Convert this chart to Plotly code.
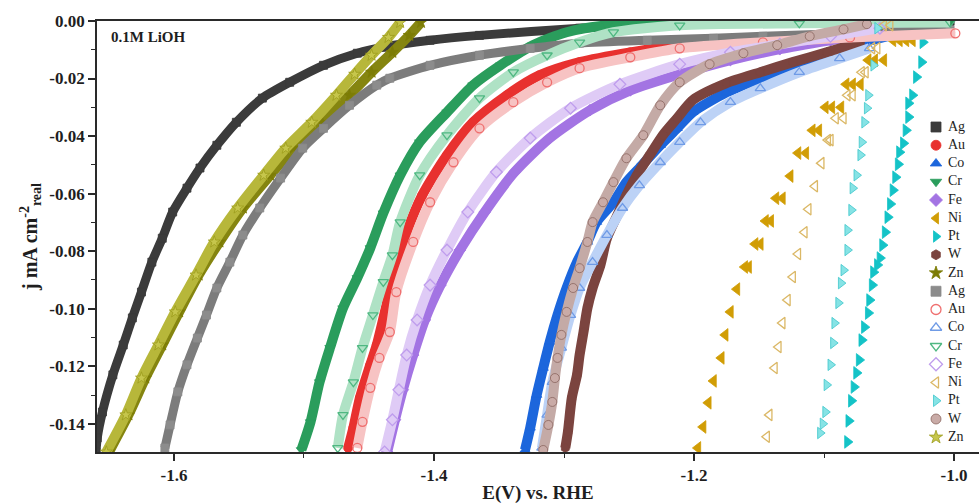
import plotly.graph_objects as go

# Linear sweep data: potential E (V vs. RHE) and current density j (mA cm^-2)
# ---- first electrode set (filled symbols) ----
ag1_e = [-1.660, -1.659, -1.655, -1.647, -1.639, -1.632, -1.625, -1.617, -1.609, -1.601, -1.590, -1.580, -1.567,
         -1.552, -1.532, -1.511, -1.485, -1.459, -1.439, -1.403, -1.365, -1.288, -1.211, -1.119, -1.003]
ag1_j = [-0.1498, -0.1449, -0.1359, -0.1230, -0.1126, -0.1032, -0.0942, -0.0838, -0.0755, -0.0664, -0.0581, -0.0511,
         -0.0432, -0.0352, -0.0268, -0.0213, -0.0154, -0.0112, -0.0091, -0.0067, -0.0050, -0.0025, -0.0008, -0.0005,
         -0.0001]

au1_e = [-1.466, -1.462, -1.457, -1.449, -1.444, -1.436, -1.430, -1.421, -1.409, -1.390, -1.370, -1.344, -1.319,
         -1.288, -1.249, -1.211, -1.147, -1.080, -1.003]
au1_j = [-0.1484, -0.1414, -0.1310, -0.1195, -0.1126, -0.0977, -0.0866, -0.0734, -0.0605, -0.0466, -0.0352, -0.0258,
         -0.0189, -0.0143, -0.0109, -0.0084, -0.0067, -0.0053, -0.0039]

co1_e = [-1.330, -1.326, -1.321, -1.316, -1.311, -1.305, -1.298, -1.290, -1.282, -1.275, -1.262, -1.252, -1.242,
         -1.226, -1.213, -1.201, -1.175, -1.149, -1.124, -1.098, -1.072, -1.042]
co1_j = [-0.1491, -0.1414, -0.1300, -0.1206, -0.1116, -0.1022, -0.0928, -0.0838, -0.0768, -0.0699, -0.0630, -0.0560,
         -0.0511, -0.0432, -0.0373, -0.0317, -0.0248, -0.0199, -0.0154, -0.0119, -0.0077, -0.0043]

cr1_e = [-1.502, -1.495, -1.488, -1.480, -1.470, -1.459, -1.449, -1.439, -1.426, -1.411, -1.390, -1.370, -1.349,
         -1.324, -1.298, -1.267, -1.211, -1.119, -1.003]
cr1_j = [-0.1491, -0.1394, -0.1255, -0.1136, -0.0998, -0.0893, -0.0789, -0.0668, -0.0536, -0.0421, -0.0317, -0.0223,
         -0.0154, -0.0084, -0.0039, -0.0015, -0.0005, -0.0003, -0.0001]

fe1_e = [-1.436, -1.430, -1.424, -1.416, -1.407, -1.395, -1.380, -1.361, -1.338, -1.311, -1.280, -1.249, -1.211,
         -1.172, -1.134, -1.095, -1.057, -1.019]
fe1_j = [-0.1498, -0.1386, -0.1282, -0.1161, -0.1039, -0.0918, -0.0796, -0.0664, -0.0525, -0.0407, -0.0310, -0.0241,
         -0.0185, -0.0136, -0.0098, -0.0067, -0.0039, -0.0018]

ni1_e = [-1.047, -1.042, -1.037, -1.032, -1.066, -1.061, -1.054, -1.083, -1.078, -1.072, -1.099, -1.094, -1.087,
         -1.109, -1.104, -1.120, -1.114, -1.126, -1.137, -1.132, -1.145, -1.141, -1.153, -1.149, -1.161, -1.158,
         -1.167, -1.172, -1.176, -1.179, -1.185, -1.189, -1.193, -1.197]
ni1_j = [-0.0067, -0.0067, -0.0067, -0.0067, -0.0136, -0.0136, -0.0136, -0.0220, -0.0220, -0.0220, -0.0300, -0.0300,
         -0.0300, -0.0380, -0.0380, -0.0459, -0.0459, -0.0539, -0.0616, -0.0616, -0.0695, -0.0695, -0.0775, -0.0775,
         -0.0855, -0.0855, -0.0932, -0.1011, -0.1091, -0.1171, -0.1251, -0.1327, -0.1411, -0.1484]

pt1_e = [-1.024, -1.025, -1.029, -1.032, -1.035, -1.035, -1.037, -1.039, -1.042, -1.043, -1.045, -1.047, -1.049,
         -1.051, -1.053, -1.055, -1.057, -1.059, -1.062, -1.063, -1.065, -1.066, -1.069, -1.071, -1.073, -1.075,
         -1.077, -1.079, -1.081, -1.082]
pt1_j = [-0.0074, -0.0143, -0.0195, -0.0258, -0.0286, -0.0334, -0.0380, -0.0425, -0.0456, -0.0498, -0.0543, -0.0588,
         -0.0636, -0.0682, -0.0734, -0.0779, -0.0824, -0.0848, -0.0873, -0.0918, -0.0970, -0.1015, -0.1064, -0.1109,
         -0.1178, -0.1223, -0.1272, -0.1320, -0.1390, -0.1463]

w1_e = [-1.299, -1.297, -1.294, -1.290, -1.288, -1.285, -1.282, -1.278, -1.272, -1.267, -1.259, -1.252, -1.244,
        -1.234, -1.224, -1.213, -1.201, -1.175, -1.149, -1.124, -1.098, -1.072]
w1_j = [-0.1484, -0.1428, -0.1310, -0.1230, -0.1161, -0.1081, -0.0998, -0.0928, -0.0848, -0.0755, -0.0675, -0.0605,
        -0.0536, -0.0466, -0.0397, -0.0338, -0.0275, -0.0216, -0.0178, -0.0143, -0.0109, -0.0074]

zn1_e = [-1.650, -1.635, -1.622, -1.609, -1.596, -1.581, -1.565, -1.547, -1.526, -1.508, -1.486, -1.465, -1.448,
         -1.432, -1.419, -1.410]
zn1_j = [-0.1498, -0.1369, -0.1241, -0.1126, -0.1011, -0.0883, -0.0768, -0.0650, -0.0536, -0.0442, -0.0352, -0.0258,
         -0.0178, -0.0109, -0.0050, -0.0005]

# ---- second electrode set (open / light symbols) ----
ag2_e = [-1.607, -1.603, -1.597, -1.590, -1.582, -1.575, -1.567, -1.557, -1.547, -1.534, -1.518, -1.501, -1.485,
         -1.465, -1.444, -1.434, -1.403, -1.365, -1.326, -1.288, -1.236, -1.185, -1.147, -1.080, -1.003]
ag2_j = [-0.1484, -0.1404, -0.1289, -0.1195, -0.1102, -0.1022, -0.0928, -0.0838, -0.0744, -0.0650, -0.0546, -0.0442,
         -0.0373, -0.0293, -0.0223, -0.0199, -0.0154, -0.0119, -0.0095, -0.0077, -0.0067, -0.0060, -0.0053, -0.0043,
         -0.0032]

au2_e = [-1.459, -1.455, -1.449, -1.442, -1.434, -1.429, -1.416, -1.403, -1.385, -1.365, -1.339, -1.313, -1.288,
         -1.249, -1.211, -1.147, -1.080, -0.999]
au2_j = [-0.1484, -0.1393, -0.1275, -0.1171, -0.1081, -0.0942, -0.0768, -0.0630, -0.0491, -0.0373, -0.0282, -0.0213,
         -0.0164, -0.0126, -0.0095, -0.0074, -0.0057, -0.0043]

co2_e = [-1.317, -1.313, -1.309, -1.302, -1.295, -1.288, -1.278, -1.267, -1.255, -1.242, -1.226, -1.211, -1.195,
         -1.172, -1.149, -1.119, -1.088, -1.065]
co2_j = [-0.1484, -0.1369, -0.1255, -0.1136, -0.1022, -0.0928, -0.0838, -0.0744, -0.0650, -0.0571, -0.0491, -0.0421,
         -0.0352, -0.0282, -0.0234, -0.0178, -0.0130, -0.0095]

cr2_e = [-1.474, -1.470, -1.462, -1.455, -1.447, -1.439, -1.432, -1.426, -1.411, -1.390, -1.365, -1.339, -1.313,
         -1.288, -1.262, -1.211, -1.119, -1.003]
cr2_j = [-0.1484, -0.1369, -0.1255, -0.1136, -0.1022, -0.0907, -0.0814, -0.0699, -0.0536, -0.0397, -0.0268, -0.0178,
         -0.0119, -0.0074, -0.0039, -0.0015, -0.0008, -0.0005]

fe2_e = [-1.438, -1.432, -1.427, -1.421, -1.413, -1.403, -1.390, -1.374, -1.352, -1.326, -1.295, -1.257, -1.211,
         -1.172, -1.134, -1.095, -1.057]
fe2_j = [-0.1498, -0.1386, -0.1282, -0.1161, -0.1039, -0.0918, -0.0796, -0.0664, -0.0525, -0.0407, -0.0303, -0.0220,
         -0.0150, -0.0109, -0.0081, -0.0053, -0.0025]

ni2_e = [-1.054, -1.049, -1.063, -1.059, -1.071, -1.068, -1.082, -1.078, -1.091, -1.085, -1.097, -1.095, -1.102,
         -1.107, -1.112, -1.115, -1.120, -1.124, -1.128, -1.132, -1.135, -1.138, -1.142, -1.144]
ni2_j = [-0.0015, -0.0015, -0.0095, -0.0095, -0.0178, -0.0178, -0.0258, -0.0258, -0.0338, -0.0338, -0.0414, -0.0414,
         -0.0494, -0.0574, -0.0654, -0.0734, -0.0810, -0.0890, -0.0970, -0.1050, -0.1133, -0.1206, -0.1369, -0.1445]

pt2_e = [-1.059, -1.062, -1.066, -1.067, -1.069, -1.071, -1.072, -1.075, -1.078, -1.079, -1.082, -1.082, -1.085,
         -1.087, -1.089, -1.092, -1.093, -1.095, -1.098, -1.099, -1.101, -1.103]
pt2_j = [-0.0025, -0.0154, -0.0258, -0.0303, -0.0352, -0.0421, -0.0466, -0.0536, -0.0581, -0.0657, -0.0727, -0.0796,
         -0.0866, -0.0911, -0.0980, -0.1050, -0.1119, -0.1195, -0.1265, -0.1359, -0.1400, -0.1432]

w2_e = [-1.316, -1.312, -1.309, -1.307, -1.305, -1.302, -1.298, -1.293, -1.288, -1.282, -1.278, -1.270, -1.262,
        -1.252, -1.239, -1.226, -1.211, -1.188, -1.162, -1.136, -1.111, -1.085, -1.067]
w2_j = [-0.1491, -0.1404, -0.1324, -0.1241, -0.1171, -0.1091, -0.1011, -0.0928, -0.0859, -0.0768, -0.0699, -0.0630,
        -0.0560, -0.0477, -0.0397, -0.0293, -0.0213, -0.0150, -0.0112, -0.0084, -0.0053, -0.0029, -0.0011]

zn2_e = [-1.652, -1.637, -1.625, -1.612, -1.599, -1.583, -1.569, -1.551, -1.531, -1.514, -1.494, -1.475, -1.461,
         -1.448, -1.435, -1.426]
zn2_j = [-0.1498, -0.1369, -0.1241, -0.1126, -0.1011, -0.0883, -0.0768, -0.0650, -0.0536, -0.0442, -0.0352, -0.0258,
         -0.0185, -0.0119, -0.0057, -0.0005]

# Axis ticks
x_tickvals = [-1.6, -1.4, -1.2, -1.0]
x_ticktext = ["-1.6", "-1.4", "-1.2", "-1.0"]
y_tickvals = [0.0, -0.02, -0.04, -0.06, -0.08, -0.10, -0.12, -0.14]
y_ticktext = ["0.00", "-0.02", "-0.04", "-0.06", "-0.08", "-0.10", "-0.12", "-0.14"]

SERIF = "Liberation Serif, Times New Roman, serif"

# (label, E, j, marker symbol, marker colour, marker edge, band colour or None for scattered points, size)
series = [
    ("Ag", ag1_e, ag1_j, "square", "#3b3b3b", "#3b3b3b", "#3b3b3b", 8),
    ("Au", au1_e, au1_j, "circle", "#e8312f", "#e8312f", "#e8312f", 9),
    ("Co", co1_e, co1_j, "triangle-up", "#1c66dc", "#1c66dc", "#1c66dc", 9),
    ("Cr", cr1_e, cr1_j, "triangle-down", "#2a9d5c", "#2a9d5c", "#2a9d5c", 9),
    ("Fe", fe1_e, fe1_j, "diamond", "#a374e3", "#a374e3", "#a374e3", 9),
    ("Ni", ni1_e, ni1_j, "triangle-left", "#d19d05", "#d19d05", None, 11),
    ("Pt", pt1_e, pt1_j, "triangle-right", "#14c3c7", "#14c3c7", None, 11),
    ("W", w1_e, w1_j, "hexagon", "#7b443f", "#7b443f", "#7b443f", 9),
    ("Zn", zn1_e, zn1_j, "star", "#7c7c05", "#7c7c05", "#858510", 9),
    ("Ag", ag2_e, ag2_j, "square", "#8c8c8c", "#8c8c8c", "#7c7c7c", 8),
    ("Au", au2_e, au2_j, "circle-open", "#ef6f6f", "#ef6f6f", "#f7c3c3", 9),
    ("Co", co2_e, co2_j, "triangle-up-open", "#6f9be6", "#6f9be6", "#bcd2f6", 9),
    ("Cr", cr2_e, cr2_j, "triangle-down-open", "#4fb882", "#4fb882", "#afe2c5", 9),
    ("Fe", fe2_e, fe2_j, "diamond-open", "#bf9ded", "#bf9ded", "#dfcbf6", 9),
    ("Ni", ni2_e, ni2_j, "triangle-left-open", "#dbb866", "#dbb866", None, 10),
    ("Pt", pt2_e, pt2_j, "triangle-right", "#86e3e5", "#3fc6cc", None, 10),
    ("W", w2_e, w2_j, "circle", "#c9aba7", "#8a6660", "#c4aaa6", 9),
    ("Zn", zn2_e, zn2_j, "star", "#c6c64c", "#9c9c1c", "#b7b73a", 9),
]

fig = go.Figure()

for name, e, j, symbol, color, edge, band, size in series:
    if band is not None:
        # dense sweep: a continuous band of overlapping symbols
        fig.add_trace(go.Scatter(
            x=e, y=j, mode="lines", showlegend=False, hoverinfo="skip",
            line=dict(color=band, width=size + 1, shape="spline", smoothing=0.7),
        ))
    is_open = symbol.endswith("-open")
    fig.add_trace(go.Scatter(
        x=e, y=j, mode="markers", name=name, showlegend=False,
        marker=dict(
            symbol=symbol, size=size, color=color,
            line=dict(color=edge, width=1.3 if is_open else 0.8),
        ),
    ))

# Key drawn on an overlay axis measured in screen pixels (x: left->right, y: top->bottom)
key_x, key_text_x, key_top, key_step = 936, 948, 127, 18.25
key_y = [key_top + k * key_step for k in range(len(series))]
fig.add_trace(go.Scatter(
    x=[key_x] * len(series), y=key_y, xaxis="x2", yaxis="y2", mode="markers",
    showlegend=False, hoverinfo="skip", cliponaxis=False,
    marker=dict(
        symbol=[s[3] for s in series], size=10, color=[s[4] for s in series],
        line=dict(color=[s[5] for s in series], width=[1.3 if s[3].endswith("-open") else 0.8 for s in series]),
    ),
))
fig.add_trace(go.Scatter(
    x=[key_text_x] * len(series), y=key_y, xaxis="x2", yaxis="y2", mode="text",
    text=[s[0] for s in series], textposition="middle right",
    textfont=dict(family=SERIF, size=14, color="#1e1e1e"),
    showlegend=False, hoverinfo="skip", cliponaxis=False,
))

axis_line = "#2a2a2a"
tick_font = dict(family=SERIF, size=17, color="#1e1e1e", weight="bold")

fig.update_layout(
    width=979, height=504,
    margin=dict(l=97, r=0, t=21, b=52, autoexpand=False),
    paper_bgcolor="white", plot_bgcolor="white",
    font=dict(family=SERIF, color="#1e1e1e"),
    showlegend=False,
    xaxis=dict(
        range=[-1.6592, -0.9808], showgrid=False, zeroline=False,
        showline=True, linecolor=axis_line, linewidth=1.8, mirror=True,
        ticks="outside", ticklen=7, tickwidth=1.6, tickcolor=axis_line,
        tickmode="array", tickvals=x_tickvals, ticktext=x_ticktext, tickfont=tick_font,
        minor=dict(dtick=0.1, tick0=-1.0, ticks="outside", ticklen=4, tickwidth=1.4, tickcolor=axis_line),
        title=dict(text="E(V) vs. RHE", standoff=8,
                   font=dict(family=SERIF, size=19, color="#1e1e1e", weight="bold")),
    ),
    yaxis=dict(
        range=[-0.1498, 0.0], showgrid=False, zeroline=False,
        showline=True, linecolor=axis_line, linewidth=1.8,
        ticks="outside", ticklen=7, tickwidth=1.6, tickcolor=axis_line,
        tickmode="array", tickvals=y_tickvals, ticktext=y_ticktext, tickfont=tick_font,
        minor=dict(dtick=0.01, tick0=0.0, ticks="outside", ticklen=4, tickwidth=1.4, tickcolor=axis_line),
        title=dict(text="j mA cm<sup>-2</sup><sub>real</sub>", standoff=6,
                   font=dict(family=SERIF, size=20, color="#1e1e1e", weight="bold")),
    ),
    xaxis2=dict(overlaying="x", anchor="y2", range=[97, 979], visible=False, fixedrange=True),
    yaxis2=dict(overlaying="y", anchor="x2", range=[452, 21], visible=False, fixedrange=True),
    annotations=[dict(
        text="0.1M LiOH", xref="paper", yref="paper", x=0.014, y=0.985,
        xanchor="left", yanchor="top", showarrow=False,
        font=dict(family=SERIF, size=15, color="#1e1e1e", weight="bold"),
    )],
)

fig.write_html("out.html")
